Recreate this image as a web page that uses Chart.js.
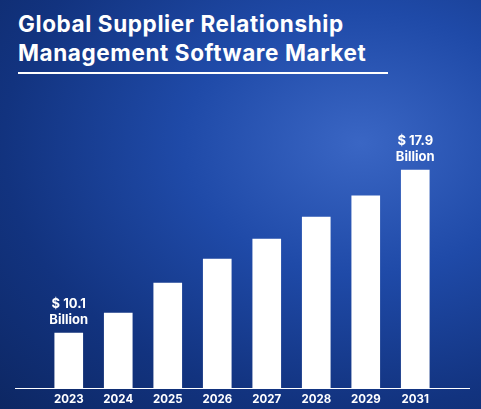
<!DOCTYPE html>
<html>
<head>
<meta charset="utf-8">
<script src="https://cdn.jsdelivr.net/npm/chart.js@4"></script>
<style>
  body { margin: 0; }
  #wrap {
    position: relative; width: 481px; height: 409px; overflow: hidden;
    background: radial-gradient(ellipse at 75% 35%, #3a66c4 0%, #1f4aa8 35%, #12337f 70%, #0d2763 100%);
    font-family: Inter, "Open Sans", sans-serif;
  }
  #title {
    position: absolute; left: 18px; top: 9px; color: #fff;
    font-size: 22.5px; font-weight: 700; line-height: 29px; letter-spacing: 0.6px;
  }
  #rule { position: absolute; left: 18px; top: 72px; width: 370px; height: 2px; background: #fff; }
  canvas { position: absolute; left: 0; top: 0; }
</style>
</head>
<body>
<div id="wrap">
  <div id="title">Global Supplier Relationship<br>Management Software Market</div>
  <div id="rule"></div>
  <canvas id="chart" width="481" height="409"></canvas>
</div>
<script>
const years = ['2023', '2024', '2025', '2026', '2027', '2028', '2029', '2031'];
const values = [10.1, 11.06, 12.49, 13.64, 14.6, 15.65, 16.66, 17.9];
const callouts = { 0: ['$ 10.1', 'Billion'], 7: ['$ 17.9', 'Billion'] };

const extras = {
    id: 'extras',
    afterDraw(chart) {
        const ctx = chart.ctx;
        const x = chart.scales.x, y = chart.scales.y;
        ctx.save();
        ctx.strokeStyle = '#ffffff';
        ctx.lineWidth = 1;
        ctx.beginPath();
        ctx.moveTo(15, chart.chartArea.bottom + 0.5);
        ctx.lineTo(470, chart.chartArea.bottom + 0.5);
        ctx.stroke();
        ctx.fillStyle = '#ffffff';
        ctx.font = '700 13px Inter, sans-serif';
        ctx.textAlign = 'center';
        Object.keys(callouts).forEach(i => {
            const px = x.getPixelForValue(+i);
            const py = y.getPixelForValue(values[i]);
            ctx.fillText(callouts[i][0], px, py - 25);
            ctx.fillText(callouts[i][1], px, py - 9);
        });
        ctx.restore();
    }
};

new Chart(document.getElementById('chart'), {
    type: 'bar',
    data: {
        labels: years,
        datasets: [{
            data: values,
            backgroundColor: '#ffffff',
            barThickness: 28
        }]
    },
    options: {
        responsive: false,
        animation: false,
        layout: { padding: { left: 44, right: 41, top: 100, bottom: 0 } },
        plugins: { legend: { display: false }, tooltip: { enabled: false } },
        scales: {
            x: {
                grid: { display: false, tickLength: 0 },
                border: { display: false },
                ticks: { color: '#ffffff', font: { family: 'Inter', size: 11.5, weight: '700' }, padding: 5 },
                afterFit(s) { s.height = 21; }
            },
            y: { display: false, min: 7.47, max: 21.25 }
        }
    },
    plugins: [extras]
});
</script>
</body>
</html>
